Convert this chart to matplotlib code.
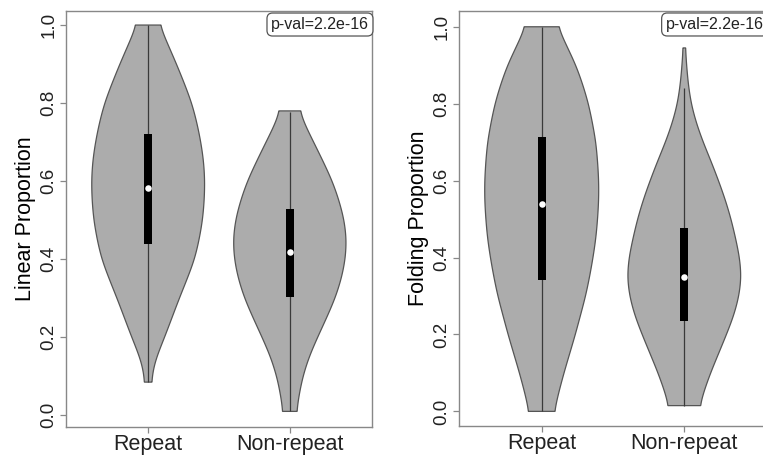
import numpy as np
import matplotlib
matplotlib.use("Agg")
import matplotlib.pyplot as plt

plt.rcParams['font.family'] = ['Liberation Sans', 'DejaVu Sans']

categories = ["Repeat", "Non-repeat"]
ylabels = ["Linear Proportion", "Folding Proportion"]
pval_text = "p-val=2.2e-16"

# violin outlines: y levels and relative density (max = 1)
lin_rep_y = [0.085, 0.10, 0.12, 0.15, 0.20, 0.25, 0.30, 0.35, 0.40, 0.45, 0.50,
             0.55, 0.60, 0.65, 0.70, 0.75, 0.80, 0.85, 0.90, 0.95, 1.00]
lin_rep_d = [0.06, 0.07, 0.09, 0.15, 0.29, 0.42, 0.55, 0.69, 0.82, 0.90, 0.96,
             0.99, 1.00, 0.98, 0.93, 0.86, 0.77, 0.64, 0.50, 0.35, 0.20]
lin_non_y = [0.01, 0.05, 0.10, 0.15, 0.20, 0.25, 0.30, 0.35, 0.40, 0.45, 0.50,
             0.55, 0.60, 0.65, 0.70, 0.75, 0.78]
lin_non_d = [0.12, 0.16, 0.23, 0.34, 0.49, 0.65, 0.80, 0.91, 0.98, 1.00, 0.96,
             0.87, 0.75, 0.59, 0.42, 0.25, 0.17]
fold_rep_y = [0.0, 0.05, 0.10, 0.15, 0.20, 0.25, 0.30, 0.35, 0.40, 0.45, 0.50,
              0.55, 0.60, 0.65, 0.70, 0.75, 0.80, 0.85, 0.90, 0.95, 1.00]
fold_rep_d = [0.22, 0.30, 0.39, 0.49, 0.59, 0.68, 0.77, 0.84, 0.90, 0.95, 0.98,
              1.00, 1.00, 0.98, 0.95, 0.89, 0.82, 0.72, 0.60, 0.44, 0.28]
fold_non_y = [0.015, 0.05, 0.10, 0.15, 0.20, 0.25, 0.30, 0.35, 0.40, 0.45, 0.50,
              0.55, 0.60, 0.65, 0.70, 0.75, 0.80, 0.85, 0.90, 0.945]
fold_non_d = [0.27, 0.34, 0.46, 0.60, 0.74, 0.87, 0.96, 1.00, 0.97, 0.90, 0.82,
              0.72, 0.60, 0.47, 0.33, 0.21, 0.12, 0.07, 0.04, 0.02]

# box stats: lower whisker, q1, median, q3, upper whisker
lin_stats = [[0.085, 0.438, 0.583, 0.722, 1.0],
             [0.01, 0.303, 0.419, 0.528, 0.778]]
fold_stats = [[0.0, 0.342, 0.539, 0.714, 1.0],
              [0.015, 0.236, 0.349, 0.478, 0.84]]


def smooth_outline(ys, ds, sigma=0.022):
    yy = np.linspace(ys[0], ys[-1], 500)
    ww = np.interp(yy, ys, ds)
    step = yy[1] - yy[0]
    k = int(3 * sigma / step)
    kern = np.exp(-0.5 * (np.arange(-k, k + 1) * step / sigma) ** 2)
    kern /= kern.sum()
    padded = np.pad(ww, k, mode="edge")
    return yy, np.convolve(padded, kern, mode="valid")


def draw_panel(ax, profiles, stats, ylabel, ylim):
    half = 0.40
    for i, (ys, ds) in enumerate(profiles):
        c = i + 1
        yy, ww = smooth_outline(ys, ds)
        ww = ww * half
        xs = np.concatenate([c - ww, (c + ww)[::-1]])
        ys2 = np.concatenate([yy, yy[::-1]])
        ax.fill(xs, ys2, facecolor="#acacac", edgecolor="#555555", lw=0.9, zorder=1)
        lo, q1, med, q3, hi = stats[i]
        ax.vlines(c, lo, hi, color="#3a3a3a", lw=0.9, zorder=2)
        ax.bar(c, q3 - q1, bottom=q1, width=0.055, color="black", zorder=3)
        ax.scatter([c], [med], s=22, color="white", zorder=4, linewidths=0)

    ax.set_xlim(0.42, 2.58)
    ax.set_ylim(*ylim)
    ax.set_xticks([1, 2])
    ax.set_xticklabels(categories, fontsize=15.5)
    ax.set_yticks([0.0, 0.2, 0.4, 0.6, 0.8, 1.0])
    ax.set_yticklabels(["0.0", "0.2", "0.4", "0.6", "0.8", "1.0"], fontsize=13.5,
                       rotation=90, va="center")
    ax.set_ylabel(ylabel, fontsize=15.5, labelpad=3)
    ax.tick_params(axis="both", color="#888888", length=4, width=0.9, labelcolor="#222222")
    ax.tick_params(axis="y", pad=2)
    ax.tick_params(axis="x", pad=1)
    for sp in ax.spines.values():
        sp.set_color("#888888")
        sp.set_linewidth(1.0)
    ax.text(0.830, 0.9675, pval_text, transform=ax.transAxes, ha="center", va="center",
            fontsize=11.5, color="#222222", clip_on=False,
            bbox=dict(boxstyle="round,pad=0.25,rounding_size=0.35", facecolor="white",
                      edgecolor="#555555", lw=0.9))


W, H = 763, 457
fig = plt.figure(figsize=(W / 100, H / 100), dpi=100)
ax1 = fig.add_axes([66 / W, (H - 427) / H, 306 / W, 416 / H])
ax2 = fig.add_axes([459 / W, (H - 426) / H, 308 / W, 415 / H])

draw_panel(ax1, [(lin_rep_y, lin_rep_d), (lin_non_y, lin_non_d)], lin_stats,
           ylabels[0], (-0.030, 1.036))
draw_panel(ax2, [(fold_rep_y, fold_rep_d), (fold_non_y, fold_non_d)], fold_stats,
           ylabels[1], (-0.038, 1.041))

fig.savefig("out.png", dpi=100)
